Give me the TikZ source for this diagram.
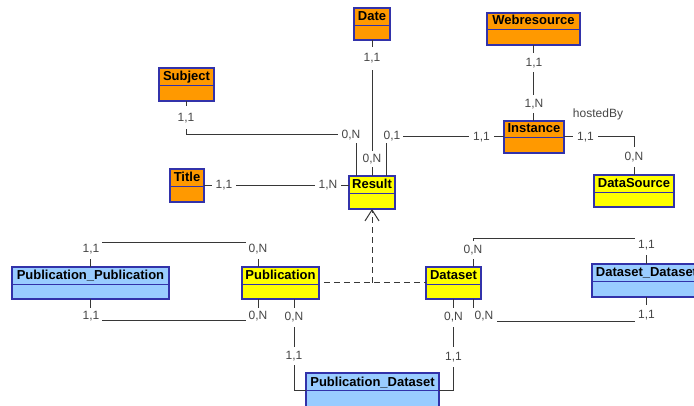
\documentclass[tikz,border=0pt]{standalone}
\usepackage{fontspec}
\setmainfont{Liberation Sans}
\usetikzlibrary{arrows.meta}
\definecolor{entorange}{RGB}{255,153,0}
\definecolor{entyellow}{RGB}{255,255,0}
\definecolor{entblue}{RGB}{153,204,255}
\definecolor{entborder}{RGB}{50,50,170}
\definecolor{linecol}{RGB}{55,55,55}
\definecolor{labgray}{RGB}{70,70,70}
\newcommand\titfont{\fontsize{13}{15}\selectfont\bfseries}
\newcommand\labfont{\fontsize{12}{14}\selectfont}
\tikzset{
  entbox/.style={draw=entborder, line width=1.3pt, inner sep=0pt, outer sep=0pt, rectangle},
  sepline/.style={draw=entborder, line width=0.8pt},
  enttitle/.style={font=\titfont, text=black, inner sep=0pt},
  conn/.style={draw=linecol, line width=1pt},
  isadash/.style={draw=linecol, line width=1pt, dash pattern=on 6pt off 4pt},
  lab/.style={font=\labfont, text=labgray, fill=white, inner sep=0pt},
}
\newcommand\entity[8]{%
  \node[entbox, fill=#7, minimum width={#4-#2}, minimum height={#5-#3}] (#1) at ({(#2+#4)/2},{(#3+#5)/2}) {};
  \draw[sepline] (#2,#6) -- (#4,#6);
  \node[enttitle, anchor=base] (#1-t) at ({(#2+#4)/2},{#6-4}) {#8};
}
\begin{document}
\begin{tikzpicture}[x=1pt,y=-1pt]
\useasboundingbox[fill=white] (0,0) rectangle (694,406);
% entities
\entity{subject}{159}{68}{214}{101}{85}{entorange}{Subject}
\entity{title}{170}{169}{204}{202}{186}{entorange}{Title}
\entity{date}{354}{8}{390}{40}{25}{entorange}{Date}
\entity{web}{487}{13}{580}{45}{29}{entorange}{Webresource}
\entity{instance}{504}{121}{564}{153}{137}{entorange}{Instance}
\entity{result}{349}{176}{395}{209}{193}{entyellow}{Result}
\entity{datasource}{594}{175}{674}{207}{192}{entyellow}{DataSource}
\entity{pp}{12}{267}{169}{299}{284}{entblue}{Publication\_Publication}
\entity{pub}{242}{267}{319}{299}{284}{entyellow}{Publication}
\entity{dataset}{426}{267}{481}{299}{284}{entyellow}{Dataset}
\entity{dd}{592}{264}{701}{297}{281}{entblue}{Dataset\_Dataset}
\entity{pd}{306}{373}{439}{408}{390}{entblue}{Publication\_Dataset}
% connectors
\draw[conn] (subject.south) -- ++(0,34) -| ([xshift=-16pt]result.north);
\draw[conn] (date.south) -- (result.north);
\draw[conn] ([xshift=14pt]result.north) |- (instance.west);
\draw[conn] (web.south) -- (web.south |- instance.north);
\draw[conn] (instance.east) -| (datasource.north);
\draw[conn] (title.east) -- (title.east -| result.west);
\draw[conn] (pp.north) -- ++(0,-24) -| ([xshift=-22.5pt]pub.north);
\draw[conn] (pp.south) -- ++(0,22) -| ([xshift=-22.5pt]pub.south);
\draw[conn] ([xshift=13.5pt]pub.south) |- (pd.west);
\draw[conn] (dataset.south) |- (pd.east);
\draw[conn] ([xshift=19.5pt]dataset.north) -- ++(0,-28) -| (dd.north);
\draw[conn] ([xshift=19.5pt]dataset.south) -- ++(0,23) -| (dd.south);
% generalisation
\draw[isadash] ([xshift=5pt]pub.east) -- (dataset.west);
\coordinate (isa) at (result.south |- pub.east);
\draw[isadash, -{Straight Barb[length=11pt,width=14pt,line width=1pt]}] (isa) -- (result.south);
% cardinality labels
\node[lab, minimum width=22, minimum height=23] (l1) at (186,118) {1,1};
\node[lab, minimum width=26, minimum height=15] (l2) at (351,135.5) {0,N};
\node[lab, minimum width=22, minimum height=23] (l3) at (372,58.5) {1,1};
\node[lab, minimum width=24, minimum height=16] (l4) at (372,159.5) {0,N};
\node[lab, minimum width=22, minimum height=14] (l5) at (392,136) {0,1};
\node[lab, minimum width=25, minimum height=14] (l6) at (481.5,137) {1,1};
\node[lab, minimum width=22, minimum height=19] (l7) at (534,63) {1,1};
\node[lab, minimum width=24, minimum height=18] (l8) at (534,104) {1,N};
\node[lab, minimum width=25, minimum height=14] (l9) at (585.5,137) {1,1};
\node[lab, minimum width=24, minimum height=20] (l10) at (634,157.5) {0,N};
\node[lab, minimum width=24, minimum height=14] (l11) at (224,185.5) {1,1};
\node[lab, minimum width=26, minimum height=14] (l12) at (328,185.5) {1,N};
\node[lab, minimum width=22, minimum height=19] (l13) at (91,249.5) {1,1};
\node[lab, minimum width=24, minimum height=19] (l14) at (258,249.5) {0,N};
\node[lab, minimum width=22, minimum height=16] (l15) at (91,316) {1,1};
\node[lab, minimum width=24, minimum height=16] (l16) at (258,316) {0,N};
\node[lab, minimum width=22, minimum height=19] (l17) at (294,317.5) {0,N};
\node[lab, minimum width=22, minimum height=18] (l18) at (294,356) {1,1};
\node[lab, minimum width=22, minimum height=19] (l19) at (453.5,317.5) {0,N};
\node[lab, minimum width=22, minimum height=20] (l20) at (453.5,357) {1,1};
\node[lab, minimum width=24, minimum height=18] (l21) at (473,250) {0,N};
\node[lab, minimum width=24, minimum height=19] (l22) at (646.5,245.5) {1,1};
\node[lab, minimum width=25, minimum height=17] (l23) at (484,316.5) {0,N};
\node[lab, minimum width=24, minimum height=20] (l24) at (646.5,315) {1,1};
\node[font=\labfont, text=labgray, inner sep=0pt] (hosted) at (598,114) {hostedBy};
\end{tikzpicture}
\end{document}
